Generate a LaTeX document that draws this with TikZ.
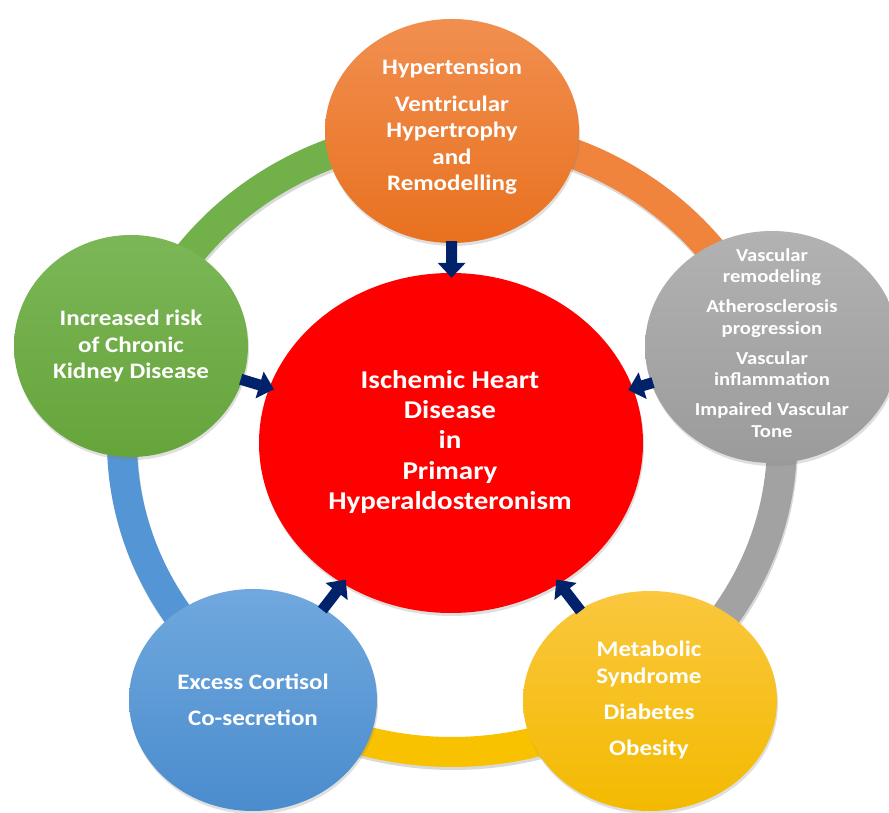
\documentclass[tikz,border=0pt]{standalone}
\usepackage{fontspec}
\setmainfont{Carlito}
\usetikzlibrary{shapes.geometric,arrows.meta,shadows}
\definecolor{navy}{HTML}{00226A}
\definecolor{hubred}{HTML}{FF0000}
\definecolor{orTop}{HTML}{F18F50}
\definecolor{orBot}{HTML}{E8711F}
\definecolor{orBand}{HTML}{F0843D}
\definecolor{grTop}{HTML}{B2B2B2}
\definecolor{grBot}{HTML}{9B9B9B}
\definecolor{grBand}{HTML}{A2A2A2}
\definecolor{gnTop}{HTML}{7BB757}
\definecolor{gnBot}{HTML}{66A43B}
\definecolor{gnBand}{HTML}{72B04A}
\definecolor{blTop}{HTML}{70A8DE}
\definecolor{blBot}{HTML}{4A8CCD}
\definecolor{blBand}{HTML}{5495D5}
\definecolor{yeTop}{HTML}{FAC73E}
\definecolor{yeBot}{HTML}{F3BA00}
\definecolor{yeBand}{HTML}{F8C200}
\begin{document}
\begin{tikzpicture}[x=1pt,y=1pt,
  band/.style={line width=30pt, line cap=butt,
    preaction={draw=black, opacity=0.15, line width=30pt, transform canvas={xshift=1pt,yshift=-3pt}}},
  bub/.style={ellipse, inner sep=0pt, draw=none,
    drop shadow={opacity=0.25, shadow xshift=1pt, shadow yshift=-3pt}},
  txt/.style={text=white, align=center, yscale=0.885, inner sep=0pt},
  bigtxt/.style={txt, font=\bfseries\fontsize{25}{30}\selectfont},
  arr/.style={draw=navy, line width=11pt, -{Triangle[width=27pt,length=15pt]},
    shorten >=-5pt, shorten <=-2pt}
]
\useasboundingbox (0,0) rectangle (889,812);
\fill[white] (0,0) rectangle (889,812);

% ring
\coordinate (ring) at (452,370);
\draw[band, gnBand] (ring) ++(162:330 and 310) arc[start angle=162, end angle=90, x radius=330, y radius=310];
\draw[band, orBand] (ring) ++(90:330 and 310) arc[start angle=90, end angle=18, x radius=330, y radius=310];
\draw[band, grBand] (ring) ++(18:330 and 310) arc[start angle=18, end angle=-54, x radius=330, y radius=310];
\draw[band, yeBand] (ring) ++(-54:330 and 310) arc[start angle=-54, end angle=-126, x radius=330, y radius=310];
\draw[band, blBand] (ring) ++(-126:330 and 310) arc[start angle=-126, end angle=-198, x radius=330, y radius=310];

% hub
\node[bub, fill=hubred, minimum width=384pt, minimum height=340pt] (hub) at (451,369) {};

% satellites
\node[bub, top color=orTop, bottom color=orBot, minimum width=254pt, minimum height=224pt] (hyp) at (452,681) {};
\node[bub, top color=grTop, bottom color=grBot, minimum width=254pt, minimum height=232pt] (vasc) at (772,465) {};
\node[bub, top color=gnTop, bottom color=gnBot, minimum width=234pt, minimum height=222pt] (ckd) at (131,466) {};
\node[bub, top color=blTop, bottom color=blBot, minimum width=248pt, minimum height=222pt] (cort) at (253,112) {};
\node[bub, top color=yeTop, bottom color=yeBot, minimum width=254pt, minimum height=220pt] (meta) at (650,111) {};

% arrows
\draw[arr] (hyp) -- (hub);
\draw[arr] (vasc) -- (hub);
\draw[arr] (ckd) -- (hub);
\draw[arr] (cort) -- (hub);
\draw[arr] (meta) -- (hub);

% texts
\node[txt, font=\bfseries\fontsize{29}{34.2}\selectfont] (hubtxt) at (450,370)
  {Ischemic Heart\\Disease\\in\\Primary\\Hyperaldosteronism};
\node[bigtxt] (hyptxt) at (452,685)
  {Hypertension\\[11pt]Ventricular\\Hypertrophy\\and\\Remodelling};
\node[txt, font=\bfseries\fontsize{20.7}{24.3}\selectfont] (vasctxt) at (772,469)
  {Vascular\\remodeling\\[9.6pt]Atherosclerosis\\progression\\[9.6pt]Vascular\\inflammation\\[9.6pt]Impaired Vascular\\Tone};
\node[bigtxt] (ckdtxt) at (131,466)
  {Increased risk\\of Chronic\\Kidney Disease};
\node[bigtxt] (corttxt) at (253,112)
  {Excess Cortisol\\[10pt]Co-secretion};
\node[bigtxt] (metatxt) at (649,112)
  {Metabolic\\Syndrome\\[11pt]Diabetes\\[11pt]Obesity};
\end{tikzpicture}
\end{document}
